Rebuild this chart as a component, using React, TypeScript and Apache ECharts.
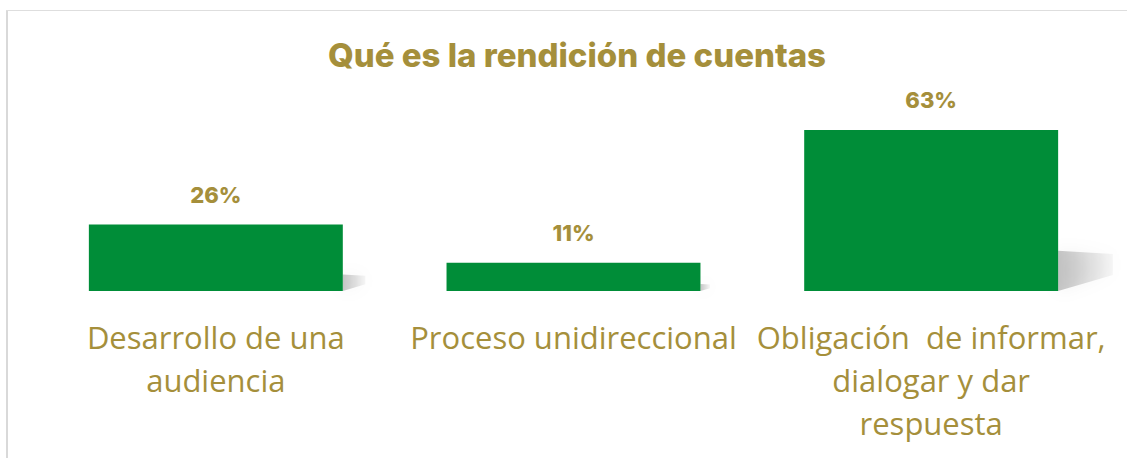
import React, { useEffect, useRef } from "react";
import * as echarts from "echarts";

const TITLE = "Qué es la rendición de cuentas";
const categories = [
  "Desarrollo de una\naudiencia",
  "Proceso unidireccional",
  "Obligación  de informar,\ndialogar y dar\nrespuesta",
];
const values = [26, 11, 63];

const GOLD = "#A58F3B";
const GREEN = "#008D38";

export default function App() {
  const ref = useRef<HTMLDivElement>(null);
  useEffect(() => {
    document.body.style.margin = "0";
    const chart = echarts.init(ref.current!, null, { renderer: "svg" });
    chart.setOption({
      animation: false,
      backgroundColor: "#ffffff",
      title: {
        text: TITLE,
        left: 323,
        top: 33,
        textStyle: {
          color: GOLD,
          fontFamily: "Inter",
          fontWeight: 800,
          fontSize: 33,
        },
      },
      graphic: [
        { type: "line", shape: { x1: 7, y1: 10, x2: 7, y2: 458 }, style: { stroke: "#d9d9d9", lineWidth: 2 } },
        { type: "line", shape: { x1: 6, y1: 10.5, x2: 1127, y2: 10.5 }, style: { stroke: "#dedede", lineWidth: 1 } },
      ],
      grid: { left: 37, right: 17, top: 112, bottom: 167 },
      xAxis: {
        type: "category",
        data: categories,
        axisLine: { show: false },
        axisTick: { show: false },
        axisLabel: {
          color: GOLD,
          fontFamily: "Open Sans",
          fontSize: 31,
          lineHeight: 43,
          margin: 24,
          interval: 0,
        },
      },
      yAxis: { type: "value", min: 0, max: 70, show: false, splitLine: { show: false } },
      series: [
        {
          type: "custom",
          z: 1,
          renderItem: (params: any, api: any) => {
            const v = api.value(1);
            const base = api.coord([api.value(0), 0]);
            const top = api.coord([api.value(0), v]);
            const bw = api.size([1, 0])[0] * 0.71;
            const h = base[1] - top[1];
            const R = base[0] + bw / 2;
            const w = h * 0.34;
            return {
              type: "polygon",
              shape: {
                points: [
                  [R, base[1]],
                  [R, base[1] - h * 0.25],
                  [R + w, base[1] - h * 0.23],
                  [R + w, base[1] - h * 0.1],
                ],
              },
              style: {
                fill: {
                  type: "linear", x: 0, y: 0, x2: 1, y2: 0,
                  colorStops: [
                    { offset: 0, color: "rgba(0,0,0,0.22)" },
                    { offset: 1, color: "rgba(0,0,0,0.03)" },
                  ],
                },
                shadowBlur: 16,
                shadowColor: "rgba(0,0,0,0.25)",
              },
            };
          },
          data: values.map((v, i) => [i, v]),
          silent: true,
        },
        {
          type: "bar",
          z: 2,
          data: values,
          barWidth: "71%",
          itemStyle: { color: GREEN },
          label: {
            show: true,
            position: "top",
            distance: 19,
            formatter: "{c}%",
            color: GOLD,
            fontFamily: "Inter",
            fontWeight: 800,
            fontSize: 22,
          },
        },
      ],
    });
    return () => chart.dispose();
  }, []);
  return <div ref={ref} style={{ width: 1127, height: 458 }} />;
}
